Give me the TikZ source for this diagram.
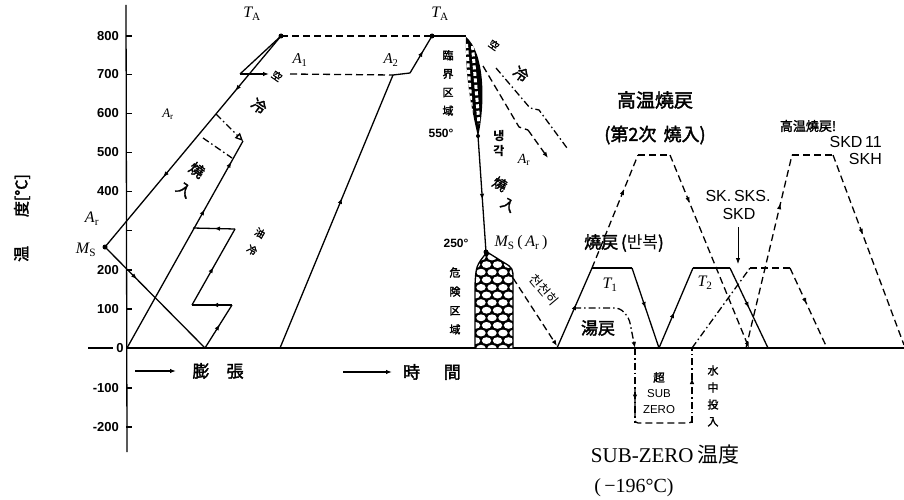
\documentclass[tikz,border=0pt]{standalone}
\usepackage{fontspec}
\setmainfont{Liberation Serif}
\newfontfamily\lsans{Liberation Sans}
\newfontfamily\cjk{Noto Sans CJK JP}
\newfontfamily\cjkb[FakeBold=2]{Noto Sans CJK JP}
\newfontfamily\kr{Noto Sans CJK KR}
\newcommand\itx[2]{{\itshape #1}\textsubscript{#2}}
\usetikzlibrary{arrows.meta,decorations.markings}
\tikzset{
  ln/.style={line width=1.3pt},
  dsh/.style={line width=1.3pt,dash pattern=on 7pt off 4pt},
  ddot/.style={line width=1.3pt,dash pattern=on 7pt off 3pt on 1.5pt off 3pt},
  ar/.style={postaction={decorate,decoration={markings,mark=at position #1 with {\arrow{Latex[length=6pt,width=4.5pt]}}}}},
  artwo/.style 2 args={postaction={decorate,decoration={markings,mark=at position #1 with {\arrow{Latex[length=6pt,width=4.5pt]}},mark=at position #2 with {\arrow{Latex[length=6pt,width=4.5pt]}}}}},
  tip/.style={-{Latex[length=6pt,width=4.5pt]}},
  tk/.style={font=\lsans\bfseries\fontsize{13}{13}\selectfont,anchor=east,inner sep=1pt},
  dotn/.style={circle,fill=black,inner sep=0pt,minimum size=5pt},
  lab/.style={inner sep=1pt},
  big/.style={font=\cjkb\fontsize{18}{18}\selectfont,inner sep=1pt},
  vstack/.style={align=center,inner sep=1pt},
  mathl/.style={font=\fontsize{16}{16}\selectfont,inner sep=1pt},
}
\begin{document}
\begin{tikzpicture}[x=1pt,y=-1pt]
\useasboundingbox (0,0) rectangle (904,500);
% ---------------- axes
\coordinate (ytop) at (126,5);
\coordinate (ybot) at (127,452);
\coordinate (b0l) at (88,348);
\coordinate (b0m) at (113,348);
\coordinate (b0a) at (126,348);
\coordinate (b0r) at (904,348);
\draw[ln] (ytop) -- (ybot);
\draw[ln] (b0l) -- (b0m);
\draw[ln] (b0a) -- (b0r);
\foreach \v/\yy in {800/36,700/74.5,600/113.5,500/152.5,400/191.5,200/270,100/309,-100/388,-200/427}{
  \coordinate (ta\v) at (126,\yy);
  \coordinate (tb\v) at (132,\yy);
  \draw[ln] (ta\v) -- (tb\v);
  \node[tk] (tl\v) at (120,\yy) {\v};
}
\coordinate (ta300) at (126,230.5);
\coordinate (tb300) at (132,230.5);
\draw[ln] (ta300) -- (tb300);
\node[tk,anchor=center] (tl0) at (120,348) {0};
\node[rotate=90,font=\cjkb\fontsize{16}{16}\selectfont] (ylab) at (22,218) {温\hspace{1.8em}度[°C]};
% expansion / time arrows
\coordinate (ea1) at (135,371);
\coordinate (ea2) at (176,371);
\draw[ln,tip] (ea1) -- (ea2);
\node[font=\cjkb\fontsize{17}{17}\selectfont] (exp) at (218,371) {膨\hspace{1em}張};
\coordinate (ta1) at (343,372);
\coordinate (ta2) at (392,372);
\draw[ln,tip] (ta1) -- (ta2);
\node[font=\cjkb\fontsize{17}{17}\selectfont] (tim) at (432,372) {時\hspace{1.4em}間};
% ---------------- left: dilatation
\coordinate (O) at (127,348);
\coordinate (Ms) at (105,247);
\coordinate (TA1) at (281,36);
\coordinate (Q0) at (205,348);
\coordinate (Z1) at (232,305);
\coordinate (Z2) at (192,305);
\coordinate (Z3) at (235,229);
\coordinate (Z4) at (193,228);
\coordinate (H1) at (243,141);
\coordinate (H2) at (232,158);
\coordinate (L1a) at (216,114);
\coordinate (L1b) at (203,138);
\coordinate (Tr1) at (240,74);
\coordinate (Tr2) at (269,74);
\draw[ln,artwo={0.26}{0.67}] (TA1) -- (Ms);
\draw[ln,ar=0.32] (Ms) -- (Q0);
\draw[ln,artwo={0.67}{0.9}] (O) -- (H1);
\draw[ln,ar=0.55] (Q0) -- (Z1);
\draw[ln,ar=0.5] (Z1) -- (Z2);
\draw[ln,ar=0.5] (Z2) -- (Z3);
\draw[ln,ar=0.5] (Z3) -- (Z4);
\draw[ddot,-{Triangle[open,length=8pt,width=7pt]}] (L1a) -- (H1);
\draw[ddot] (L1b) -- (H2);
\draw[ln] (TA1) -- (Tr1);
\draw[ln,tip] (Tr1) -- (Tr2);
\node[dotn] (dMs) at (Ms) {};
\node[dotn] (dTA1) at (TA1) {};
\node[mathl,font=\fontsize{13}{13}\selectfont] (lArL) at (168,114) {\itx{A}{r}};
\node[mathl] (lAr0) at (92,219) {\itx{A}{r}};
\node[mathl] (lMs) at (86,250) {\itx{M}{S}};
\node[rotate=-35,font=\cjkb\fontsize{15}{15}\selectfont] (yk1) at (197,170) {燒};
\node[rotate=-35,font=\cjkb\fontsize{15}{15}\selectfont] (yk2) at (184,190) {入};
\node[rotate=-35,font=\cjkb\fontsize{10}{10}\selectfont] (k1) at (277,76) {空};
\node[rotate=-35,font=\cjkb\fontsize{15}{15}\selectfont] (k2) at (259,106) {冷};
\node[rotate=-30,font=\cjkb\fontsize{10}{10}\selectfont] (k3) at (260,233) {油};
\node[rotate=-30,font=\cjkb\fontsize{10}{10}\selectfont] (k4) at (252,250) {冷};
% ---------------- middle: time
\coordinate (B0) at (280,348);
\coordinate (S1) at (393,75);
\coordinate (S2) at (410,73);
\coordinate (TA2) at (432,36);
\coordinate (P1) at (466,36);
\coordinate (C550) at (478,136);
\coordinate (Ms2) at (486,252);
\coordinate (D7) at (290,74);
\draw[dsh] (TA1) -- (TA2);
\draw[dsh] (D7) -- (S1);
\draw[ln,ar=0.55] (B0) -- (S1);
\draw[ln] (S1) -- (S2);
\draw[ln,ar=0.6] (S2) -- (TA2);
\draw[ln] (TA2) -- (P1);
\draw[ln,ar=0.55] (C550) -- (Ms2);
\node[dotn] (dTA2) at (TA2) {};
% critical region
\fill[black] (466,37) .. controls (484,52) and (486,100) .. (478,137) .. controls (472,110) and (465,80) .. (466,37);
\begin{scope}
\clip (466,37) .. controls (484,52) and (486,100) .. (478,137) .. controls (472,110) and (465,80) .. (466,37);
\draw[white,line width=3pt,dash pattern=on 4pt off 2.5pt] (466.5,44) -- (473,130);
\draw[white,line width=3pt,dash pattern=on 4pt off 2.5pt] (472.5,46) -- (479,124);
\end{scope}
\node[dotn,minimum size=4pt] (d550) at (C550) {};
% danger region
\begin{scope}
\clip (475,348) -- (475,285) .. controls (476,266) .. (487,252) -- (503,262) .. controls (513,268) .. (513,280) -- (513,348) -- cycle;
\fill[black] (470,245) rectangle (518,350);
\foreach \r in {0,...,12}{
  \pgfmathsetmacro{\yy}{257+\r*7.6}
  \pgfmathsetmacro{\xo}{mod(\r,2)*5.5}
  \foreach \c in {0,...,4}{
    \fill[white] ({470+\xo+\c*11},\yy) ellipse [x radius=4.7pt, y radius=3.4pt];
  }
}
\end{scope}
\draw[ln] (475,348) -- (475,285) .. controls (476,266) .. (487,252) -- (503,262) .. controls (513,268) .. (513,280) -- (513,348);
\node[dotn] (dMs2) at (Ms2) {};
% cooling curves
\coordinate (Pa) at (483,66);
\coordinate (Pb) at (519,127);
\coordinate (Pc) at (528,130);
\coordinate (Pd) at (548,158);
\draw[dsh] (Pa) -- (Pb) -- (Pc);
\draw[dsh,tip] (Pc) -- (Pd);
\coordinate (Qa) at (496,68);
\coordinate (Qb) at (530,108);
\coordinate (Qc) at (539,110);
\coordinate (Qd) at (567,148);
\draw[ddot] (Qa) -- (Qb) -- (Qc) -- (Qd);
\coordinate (Ra) at (513,278);
\coordinate (Rb) at (557,346);
\draw[dsh,tip] (Ra) -- (Rb);
% labels
\node[mathl] (lTA1) at (252,14) {\itx{T}{A}};
\node[mathl] (lTA2) at (440,14) {\itx{T}{A}};
\node[mathl,font=\fontsize{15}{15}\selectfont] (lA1) at (300,60) {\itx{A}{1}};
\node[mathl,font=\fontsize{15}{15}\selectfont] (lA2) at (391,60) {\itx{A}{2}};
\node[vstack,font=\cjkb\fontsize{11}{18.5}\selectfont] (rinkai) at (448,83) {臨\\界\\区\\域};
\node[lab,font=\lsans\bfseries\fontsize{12}{12}\selectfont] (t550) at (441,133) {550°};
\node[lab,font=\lsans\bfseries\fontsize{12}{12}\selectfont] (t250) at (456,243) {250°};
\node[mathl] (lMs2) at (521,243) {\itx{M}{S}\,(\,\itx{A}{r}\,)};
\node[vstack,font=\cjkb\fontsize{11}{19}\selectfont] (kiken) at (455,301) {危\\険\\区\\域};
\node[rotate=-35,font=\cjkb\fontsize{10}{10}\selectfont] (k5) at (494,45) {空};
\node[rotate=-35,font=\cjkb\fontsize{15}{15}\selectfont] (k6) at (521,74) {冷};
\node[vstack,font=\kr\bfseries\fontsize{12}{15}\selectfont] (k7) at (499,144) {냉\\각};
\node[mathl,font=\fontsize{14}{14}\selectfont] (lAr2) at (524,160) {\itx{A}{r}};
\node[rotate=-30,font=\cjkb\fontsize{14}{14}\selectfont] (yk3) at (500,184) {燒};
\node[rotate=-30,font=\cjkb\fontsize{14}{14}\selectfont] (yk4) at (508,205) {入};
\node[rotate=-50,font=\kr\fontsize{13}{13}\selectfont] (slow) at (544,290) {천천히};
% ---------------- right: tempering
\coordinate (T1a) at (557,348);
\coordinate (T1b) at (592,268);
\coordinate (T1c) at (632,268);
\coordinate (T1d) at (659,348);
\coordinate (T2b) at (693,268);
\coordinate (T2c) at (730,268);
\coordinate (T2d) at (768,348);
\draw[ln,ar=0.55] (T1a) -- (T1b);
\draw[ln] (T1b) -- (T1c);
\draw[ln,ar=0.5] (T1c) -- (T1d);
\draw[ln,ar=0.45] (T1d) -- (T2b);
\draw[ln] (T2b) -- (T2c);
\draw[ln,ar=0.5] (T2c) -- (T2d);
% high temperature tempering
\coordinate (HTb) at (638,155);
\coordinate (HTc) at (670,155);
\coordinate (HTd) at (749,348);
\draw[dsh,ar=0.7] (T1b) -- (HTb);
\draw[dsh] (HTb) -- (HTc);
\draw[dsh,ar=0.25,tip] (HTc) -- (HTd);
% yumodoshi
\coordinate (Ya) at (574,308);
\coordinate (Yb) at (620,308);
\coordinate (Yc) at (635,348);
\draw[ddot,rounded corners=5pt,tip] (Ya) -- (Yb) -- (629,318) -- (Yc);
% subzero
\coordinate (Sa) at (635,423);
\coordinate (Sb) at (692,423);
\coordinate (Sc) at (692,348);
\draw[ddot,ar=0.7] (Yc) -- (Sa);
\draw[dsh,rounded corners=3pt] (Yc) ++(0,40) -- (Sa) -- (Sb) -- ++(0,-10);
\draw[ddot,ar=0.6] (Sb) -- (Sc);
% SK line
\coordinate (Ka) at (750,268);
\coordinate (Kb) at (790,268);
\coordinate (Kc) at (827,348);
\draw[ddot] (Sc) -- (Ka);
\draw[dsh] (Ka) -- (Kb);
\draw[dsh,ar=0.45] (Kb) -- (Kc);
% SKD11 line
\coordinate (Ua) at (746,348);
\coordinate (Ub) at (792,155);
\coordinate (Uc) at (833,155);
\coordinate (Ud) at (904,345);
\draw[dsh,ar=0.75] (Ua) -- (Ub);
\draw[dsh] (Ub) -- (Uc);
\draw[dsh,ar=0.42] (Uc) -- (Ud);
% leader
\coordinate (La) at (738,227);
\coordinate (Lb) at (738,264);
\draw[line width=0.8pt,tip] (La) -- (Lb);
% right labels
\node[big,font=\cjkb\fontsize{19}{19}\selectfont] (hi1) at (655,100) {高温燒戻};
\node[big,font=\cjkb\fontsize{18}{18}\selectfont] (hi2) at (655,135) {(第2次\hspace{0.4em}燒入)};
\node[big,font=\cjkb\fontsize{17}{17}\selectfont] (rep) at (624,243) {燒戻\,({\kr 반복})};
\node[mathl] (lT1) at (610,285) {\itx{T}{1}};
\node[mathl] (lT2) at (705,283) {\itx{T}{2}};
\node[big,font=\cjkb\fontsize{17}{17}\selectfont] (yu) at (598,328) {湯戻};
\node[lab,font=\lsans\fontsize{16}{16}\selectfont] (sk1) at (738,196) {SK.\,SKS.};
\node[lab,font=\lsans\fontsize{16}{16}\selectfont] (sk2) at (739,214) {SKD};
\node[lab,font=\cjkb\fontsize{13}{13}\selectfont] (hi3) at (808,126) {高温燒戻!};
\node[lab,font=\lsans\fontsize{16}{16}\selectfont,anchor=east] (skd) at (883,142) {SKD\,11};
\node[lab,font=\lsans\fontsize{16}{16}\selectfont,anchor=east] (skh) at (883,159) {SKH};
\node[vstack,font=\lsans\fontsize{11.5}{16}\selectfont] (sz) at (659,393) {{\cjkb 超}\\SUB\\ZERO};
\node[vstack,font=\cjkb\fontsize{11}{17}\selectfont] (mizu) at (713,396) {水\\中\\投\\入};
\node[lab,font=\fontsize{21}{21}\selectfont] (szt) at (665,455) {SUB-ZERO\,{\cjk 温度}};
\node[lab,font=\fontsize{20}{20}\selectfont] (m196) at (634,488) {(\,−196°C)};
\end{tikzpicture}
\end{document}
